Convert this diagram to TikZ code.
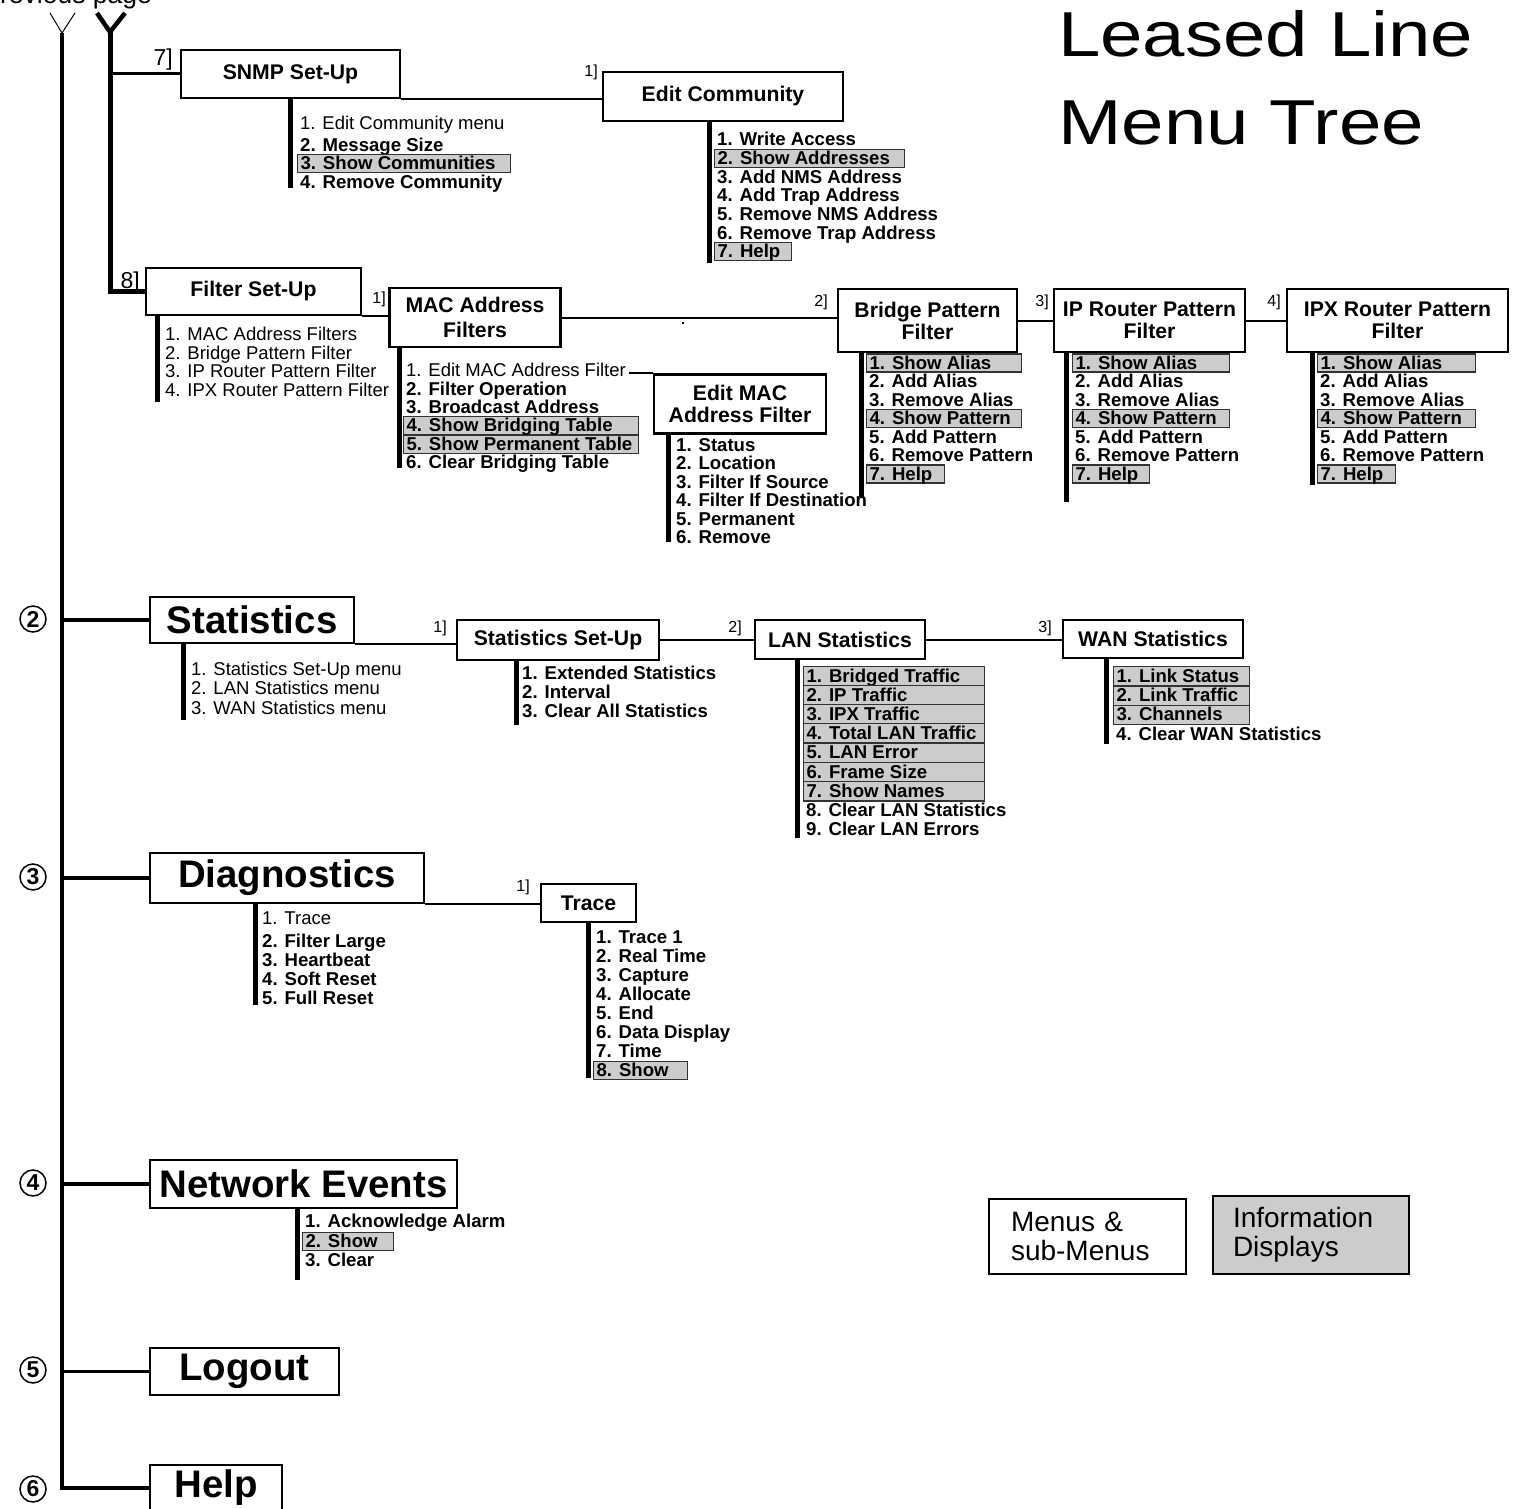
\documentclass[tikz,border=0pt]{standalone}
\usepackage{fontspec}
\setmainfont{Liberation Sans}
\newfontfamily\titlefont{Liberation Sans}[FakeStretch=1.2]
\definecolor{infogray}{gray}{0.8}
\newcommand{\infotext}[2]{\makebox[#1pt][l]{#2}}
\begin{document}
\begin{tikzpicture}[x=1pt, y=-1pt,
  menubox/.style={draw, line width=2.5pt, fill=white, inner sep=0pt, align=center,
    font=\fontsize{21.2}{22}\selectfont\bfseries},
  topbox/.style={menubox, font=\fontsize{38.4}{40}\selectfont\bfseries},
  itm/.style={anchor=base west, inner xsep=3pt, inner ysep=1pt, text height=14pt, text depth=2pt,
    font=\fontsize{18.6}{18.5}\selectfont\bfseries},
  ritm/.style={itm, font=\fontsize{18.5}{18.5}\selectfont},
  gitm/.style={itm, draw=black!80, line width=1.2pt, fill=infogray},
  rowbox/.style={gitm, text height=15pt, text depth=3pt, inner ysep=0.8pt},
  branchln/.style={line width=5pt},
  linkln/.style={line width=2pt},
  trunkln/.style={line width=3.5pt},
  lbl/.style={anchor=base east, inner sep=0pt, font=\fontsize{16}{16}\selectfont},
  biglbl/.style={lbl, font=\fontsize{23}{23}\selectfont},
  numc/.style={circle, draw, line width=1.5pt, minimum size=26pt, inner sep=0pt,
    font=\fontsize{23}{23}\selectfont\bfseries},
  legbox/.style={draw, line width=2pt, inner ysep=0pt, align=left,
    font=\fontsize{28}{29}\selectfont},
]
\useasboundingbox (0,0) rectangle (1515,1509);
\clip (0,0) rectangle (1515,1509);

% ---------- title and page reference ----------
\node[anchor=base west, inner sep=0pt, font=\titlefont\fontsize{63.5}{63.5}\selectfont] (title1) at (1058,57) {Leased Line};
\node[anchor=base west, inner sep=0pt, font=\titlefont\fontsize{63.5}{63.5}\selectfont] (title2) at (1058,145) {Menu Tree};
\node[anchor=base west, inner sep=0pt, font=\fontsize{26.5}{26.5}\selectfont] (prev) at (-17.7,3.5) {Previous page};

% ---------- menu boxes ----------
\node[menubox, minimum width=219pt, minimum height=48pt] (snmp) at (290.5,74) {SNMP Set-Up};
\node[menubox, minimum width=240pt, minimum height=49pt] (editcomm) at (723,96.5) {Edit Community};
\node[menubox, minimum width=215pt, minimum height=47pt] (filter) at (253.5,291.5) {Filter Set-Up};
\node[menubox, minimum width=171pt, minimum height=59pt, font=\fontsize{21.2}{25}\selectfont\bfseries] (mac) at (475,317.5) {MAC Address\\Filters};
\node[menubox, minimum width=172pt, minimum height=59pt] (emf) at (740,404) {Edit MAC\\Address Filter};
\node[menubox, minimum width=179pt, minimum height=63pt] (bridge) at (927.5,320.5) {Bridge Pattern\\Filter};
\node[menubox, minimum width=191pt, minimum height=63pt] (iprouter) at (1149.5,320.5) {IP Router Pattern\\Filter};
\node[menubox, minimum width=221pt, minimum height=63pt] (ipx) at (1397.5,320.5) {IPX Router Pattern\\Filter};
\node[topbox, minimum width=204pt, minimum height=46pt] (stats) at (252,620) {Statistics};
\node[menubox, minimum width=202pt, minimum height=40pt] (statsetup) at (558,640) {Statistics Set-Up};
\node[menubox, minimum width=170pt, minimum height=39pt] (lan) at (840,639.5) {LAN Statistics};
\node[menubox, minimum width=180pt, minimum height=38pt] (wan) at (1153,639) {WAN Statistics};
\node[topbox, minimum width=274pt, minimum height=50pt] (diag) at (287,878) {Diagnostics};
\node[menubox, minimum width=95pt, minimum height=38pt] (trace) at (588.5,903) {Trace};
\node[topbox, minimum width=307pt, minimum height=48pt] (netev) at (303.5,1184) {Network Events};
\node[topbox, minimum width=189pt, minimum height=47pt] (logout) at (244.5,1371.5) {Logout};
\node[topbox, minimum width=132pt, minimum height=46pt] (help) at (216,1488) {Help};

% ---------- numbered entries of the main menu ----------
\node[numc] (n2) at (33,619) {2};
\node[numc] (n3) at (33,877) {3};
\node[numc] (n4) at (33,1183) {4};
\node[numc] (n5) at (33,1370) {5};
\node[numc] (n6) at (33,1489) {6};

% ---------- trunks from the previous page ----------
\coordinate (ya) at (62,33);
\coordinate (yal) at (50,13);
\coordinate (yar) at (75,13);
\coordinate (yb) at (110,32);
\coordinate (ybl) at (97,13);
\coordinate (ybr) at (125,13);
\draw[line width=1pt] (yal) -- (ya) -- (yar);
\draw[line width=4.5pt] (ybl) -- (yb) -- (ybr);
\draw[trunkln] (ya) |- (help.west);
\draw[branchln] (yb) |- (filter.west);
\draw[line width=3pt] (yb |- snmp.west) -- (snmp.west);
\foreach \m in {stats,diag,netev,logout}
  \draw[trunkln] (ya |- \m.west) -- (\m.west);

% ---------- links between menus ----------
\draw[linkln] (snmp.south east) -- (snmp.south east -| editcomm.west);
\draw[linkln] (filter.south east) -- (filter.south east -| mac.west);
\draw[linkln] (mac.east) -- (mac.east -| bridge.west);
\draw[linkln] (bridge.east) -- (bridge.east -| iprouter.west);
\draw[linkln] (iprouter.east) -- (iprouter.east -| ipx.west);
\draw[linkln] (stats.south east) -- (stats.south east -| statsetup.west);
\draw[linkln] (statsetup.east) -- (statsetup.east -| lan.west);
\draw[linkln] (lan.east) -- (lan.east -| wan.west);
\draw[linkln] (diag.south east) -- (diag.south east -| trace.west);
\fill (682,322) rectangle (684,324);

% ---------- link labels ----------
\node[biglbl] (t7) at (173,66) {7]};
\node[biglbl] (t8) at (140,288) {8]};
\node[lbl] (tec) at (598,77) {1]};
\node[lbl] (tmac) at (386,303) {1]};
\node[lbl] (tbr) at (828,306) {2]};
\node[lbl] (tip) at (1049,306) {3]};
\node[lbl] (tipx) at (1281,306) {4]};
\node[lbl] (tss) at (447,632) {1]};
\node[lbl] (tlan) at (742,632) {2]};
\node[lbl] (twan) at (1052,632) {3]};
\node[lbl] (ttr) at (530,891) {1]};

% ---------- option lists ----------
\foreach \b/\x/\y in {snmp/290/188, editcomm/709/263, filter/157/402, mac/399/468,
    emf/668/542, bridge/861/497, iprouter/1066/502, ipx/1312/485, stats/183/720,
    statsetup/516/725, lan/797/838, wan/1106/744, diag/255/1005, trace/588/1078,
    netev/297/1280}{
  \coordinate (\b-end) at (\x,\y);
  \draw[branchln] (\b.south -| \b-end) -- (\b-end);
}

% SNMP Set-Up
\node[ritm] (snmp1) at (297,130) {1. Edit Community menu};
\node[itm] (snmp2) at (297,151) {2. Message Size};
\node[gitm] (snmp3) at (297,169.5) {\infotext{207}{3. Show Communities}};
\node[itm] (snmp4) at (297,188) {4. Remove Community};

% Edit Community
\node[itm] (ec1) at (714,146) {1. Write Access};
\node[gitm] (ec2) at (714,164.6) {\infotext{184}{2. Show Addresses}};
\node[itm] (ec3) at (714,183.2) {3. Add NMS Address};
\node[itm] (ec4) at (714,201.8) {4. Add Trap Address};
\node[itm] (ec5) at (714,220.4) {5. Remove NMS Address};
\node[itm] (ec6) at (714,239) {6. Remove Trap Address};
\node[gitm] (ec7) at (714,257.6) {\infotext{71}{7. Help}};

% Filter Set-Up
\node[ritm] (fs1) at (162,340.5) {1. MAC Address Filters};
\node[ritm] (fs2) at (162,359.2) {2. Bridge Pattern Filter};
\node[ritm] (fs3) at (162,377.9) {3. IP Router Pattern Filter};
\node[ritm] (fs4) at (162,396.6) {4. IPX Router Pattern Filter};

% MAC Address Filters
\node[ritm] (mac1) at (403,376) {1. Edit MAC Address Filter};
\node[itm] (mac2) at (403,395) {2. Filter Operation};
\node[itm] (mac3) at (403,413.5) {3. Broadcast Address};
\node[gitm] (mac4) at (403,431.5) {\infotext{229}{4. Show Bridging Table}};
\node[gitm] (mac5) at (403,450.5) {\infotext{229}{5. Show Permanent Table}};
\node[itm] (mac6) at (403,468) {6. Clear Bridging Table};
\draw[linkln] (mac1.east |- emf.north) -- (emf.north west);

% Edit MAC Address Filter
\node[itm] (emf1) at (673,451) {1. Status};
\node[itm] (emf2) at (673,469.5) {2. Location};
\node[itm] (emf3) at (673,488) {3. Filter If Source};
\node[itm] (emf4) at (673,506.5) {4. Filter If Destination};
\node[itm] (emf5) at (673,525) {5. Permanent};
\node[itm] (emf6) at (673,543.5) {6. Remove};

% Bridge Pattern Filter
\node[gitm] (br1) at (866,369) {\infotext{149}{1. Show Alias}};
\node[itm] (br2) at (866,387.5) {2. Add Alias};
\node[itm] (br3) at (866,406) {3. Remove Alias};
\node[gitm] (br4) at (866,424.5) {\infotext{149}{4. Show Pattern}};
\node[itm] (br5) at (866,443) {5. Add Pattern};
\node[itm] (br6) at (866,461.5) {6. Remove Pattern};
\node[gitm] (br7) at (866,480) {\infotext{72}{7. Help}};

% IP Router Pattern Filter
\node[gitm] (ip1) at (1072,369) {\infotext{151}{1. Show Alias}};
\node[itm] (ip2) at (1072,387.5) {2. Add Alias};
\node[itm] (ip3) at (1072,406) {3. Remove Alias};
\node[gitm] (ip4) at (1072,424.5) {\infotext{151}{4. Show Pattern}};
\node[itm] (ip5) at (1072,443) {5. Add Pattern};
\node[itm] (ip6) at (1072,461.5) {6. Remove Pattern};
\node[gitm] (ip7) at (1072,480) {\infotext{71}{7. Help}};

% IPX Router Pattern Filter
\node[gitm] (ipx1) at (1317,369) {\infotext{152}{1. Show Alias}};
\node[itm] (ipx2) at (1317,387.5) {2. Add Alias};
\node[itm] (ipx3) at (1317,406) {3. Remove Alias};
\node[gitm] (ipx4) at (1317,424.5) {\infotext{152}{4. Show Pattern}};
\node[itm] (ipx5) at (1317,443) {5. Add Pattern};
\node[itm] (ipx6) at (1317,461.5) {6. Remove Pattern};
\node[gitm] (ipx7) at (1317,480) {\infotext{72}{7. Help}};

% Statistics
\node[ritm] (st1) at (188,675) {1. Statistics Set-Up menu};
\node[ritm] (st2) at (188,694.5) {2. LAN Statistics menu};
\node[ritm] (st3) at (188,714) {3. WAN Statistics menu};

% Statistics Set-Up
\node[itm] (ss1) at (519,679.5) {1. Extended Statistics};
\node[itm] (ss2) at (519,698.5) {2. Interval};
\node[itm] (ss3) at (519,717.5) {3. Clear All Statistics};

% LAN Statistics
\node[rowbox] (lan1) at (803,682) {\infotext{175}{1. Bridged Traffic}};
\node[rowbox] (lan2) at (803,701.2) {\infotext{175}{2. IP Traffic}};
\node[rowbox] (lan3) at (803,720.4) {\infotext{175}{3. IPX Traffic}};
\node[rowbox] (lan4) at (803,739.6) {\infotext{175}{4. Total LAN Traffic}};
\node[rowbox] (lan5) at (803,758.8) {\infotext{175}{5. LAN Error}};
\node[rowbox] (lan6) at (803,778) {\infotext{175}{6. Frame Size}};
\node[rowbox] (lan7) at (803,797.2) {\infotext{175}{7. Show Names}};
\node[itm] (lan8) at (803,816.4) {8. Clear LAN Statistics};
\node[itm] (lan9) at (803,835.6) {9. Clear LAN Errors};

% WAN Statistics
\node[rowbox] (wan1) at (1113,682.5) {\infotext{130}{1. Link Status}};
\node[rowbox] (wan2) at (1113,701.7) {\infotext{130}{2. Link Traffic}};
\node[rowbox] (wan3) at (1113,720.9) {\infotext{130}{3. Channels}};
\node[itm] (wan4) at (1113,740) {4. Clear WAN Statistics};

% Diagnostics
\node[ritm] (dg1) at (259,924.5) {1. Trace};
\node[itm] (dg2) at (259,947.5) {2. Filter Large};
\node[itm] (dg3) at (259,966.5) {3. Heartbeat};
\node[itm] (dg4) at (259,985.5) {4. Soft Reset};
\node[itm] (dg5) at (259,1004.5) {5. Full Reset};

% Trace
\node[itm] (tr1) at (593,943.5) {1. Trace 1};
\node[itm] (tr2) at (593,962.5) {2. Real Time};
\node[itm] (tr3) at (593,981.5) {3. Capture};
\node[itm] (tr4) at (593,1000.5) {4. Allocate};
\node[itm] (tr5) at (593,1019.5) {5. End};
\node[itm] (tr6) at (593,1038.5) {6. Data Display};
\node[itm] (tr7) at (593,1057.5) {7. Time};
\node[gitm] (tr8) at (593,1076.5) {\infotext{88}{8. Show}};

% Network Events
\node[itm] (ne1) at (302,1227) {1. Acknowledge Alarm};
\node[gitm] (ne2) at (302,1247.5) {\infotext{85}{2. Show}};
\node[itm] (ne3) at (302,1266) {3. Clear};

% ---------- key ----------
\node[legbox, inner xsep=22pt, text width=153pt, minimum height=75pt] (keymenu) at (1087.5,1236.5) {Menus \&\\sub-Menus};
\node[legbox, inner xsep=20pt, text width=156pt, fill=infogray, minimum height=78pt] (keyinfo) at (1311,1235) {Information\\Displays};
\end{tikzpicture}
\end{document}
